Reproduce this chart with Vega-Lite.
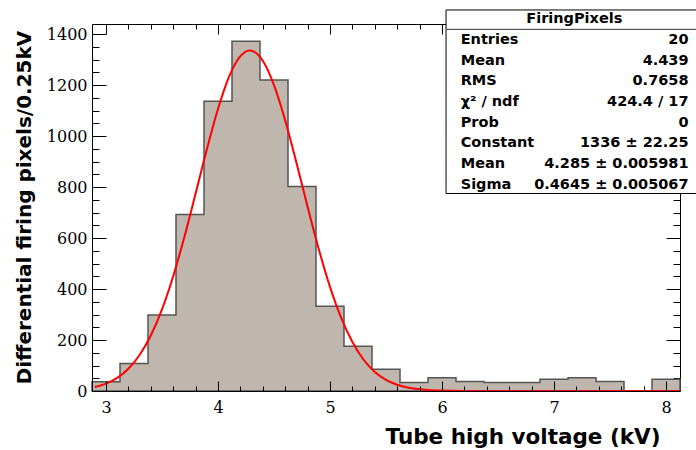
{
  "$schema": "https://vega.github.io/schema/vega-lite/v6.json",
  "width": 588,
  "height": 367,
  "autosize": "none",
  "padding": {"left": 92, "top": 24, "right": 16, "bottom": 59},
  "background": "white",
  "config": {"view": {"stroke": null}},
  "datasets": {
    "bins": [
      {"lo": 2.875, "hi": 3.125, "n": 36},
      {"lo": 3.125, "hi": 3.375, "n": 108},
      {"lo": 3.375, "hi": 3.625, "n": 298},
      {"lo": 3.625, "hi": 3.875, "n": 693},
      {"lo": 3.875, "hi": 4.125, "n": 1137},
      {"lo": 4.125, "hi": 4.375, "n": 1372},
      {"lo": 4.375, "hi": 4.625, "n": 1220},
      {"lo": 4.625, "hi": 4.875, "n": 802},
      {"lo": 4.875, "hi": 5.125, "n": 333},
      {"lo": 5.125, "hi": 5.375, "n": 176},
      {"lo": 5.375, "hi": 5.625, "n": 85},
      {"lo": 5.625, "hi": 5.875, "n": 33},
      {"lo": 5.875, "hi": 6.125, "n": 52},
      {"lo": 6.125, "hi": 6.375, "n": 37},
      {"lo": 6.375, "hi": 6.625, "n": 33},
      {"lo": 6.625, "hi": 6.875, "n": 33},
      {"lo": 6.875, "hi": 7.125, "n": 46},
      {"lo": 7.125, "hi": 7.375, "n": 52},
      {"lo": 7.375, "hi": 7.625, "n": 37},
      {"lo": 7.625, "hi": 7.875, "n": 0},
      {"lo": 7.875, "hi": 8.125, "n": 46}
    ],
    "fit": [
      {"x": 2.9, "y": 15.7}, {"x": 3.0, "y": 29.1}, {"x": 3.1, "y": 51.6}, {"x": 3.2, "y": 87.3},
      {"x": 3.3, "y": 141.0}, {"x": 3.4, "y": 217.6}, {"x": 3.5, "y": 320.3}, {"x": 3.6, "y": 450.4},
      {"x": 3.7, "y": 604.5}, {"x": 3.8, "y": 774.6}, {"x": 3.9, "y": 947.6}, {"x": 4.0, "y": 1106.8},
      {"x": 4.1, "y": 1234.1}, {"x": 4.2, "y": 1313.8}, {"x": 4.285, "y": 1336}, {"x": 4.3, "y": 1335.3},
      {"x": 4.4, "y": 1295.7}, {"x": 4.5, "y": 1200.3}, {"x": 4.6, "y": 1061.6}, {"x": 4.7, "y": 896.4},
      {"x": 4.8, "y": 722.6}, {"x": 4.9, "y": 556.1}, {"x": 5.0, "y": 408.6}, {"x": 5.1, "y": 286.6},
      {"x": 5.2, "y": 191.9}, {"x": 5.3, "y": 122.7}, {"x": 5.4, "y": 74.9}, {"x": 5.5, "y": 43.7},
      {"x": 5.6, "y": 24.3}, {"x": 5.7, "y": 12.9}, {"x": 5.8, "y": 6.5}, {"x": 5.9, "y": 3.2},
      {"x": 6.0, "y": 1.5}, {"x": 6.2, "y": 0.3}, {"x": 6.5, "y": 0}, {"x": 8.125, "y": 0}
    ],
    "statbox": [
      {"row": 0, "kind": "title", "text": "FiringPixels"},
      {"row": 1, "kind": "label", "text": "Entries"},
      {"row": 1, "kind": "value", "text": "20"},
      {"row": 2, "kind": "label", "text": "Mean"},
      {"row": 2, "kind": "value", "text": "4.439"},
      {"row": 3, "kind": "label", "text": "RMS"},
      {"row": 3, "kind": "value", "text": "0.7658"},
      {"row": 4, "kind": "label", "text": "χ² / ndf"},
      {"row": 4, "kind": "value", "text": "424.4 / 17"},
      {"row": 5, "kind": "label", "text": "Prob"},
      {"row": 5, "kind": "value", "text": "0"},
      {"row": 6, "kind": "label", "text": "Constant"},
      {"row": 6, "kind": "value", "text": "1336 ± 22.25"},
      {"row": 7, "kind": "label", "text": "Mean"},
      {"row": 7, "kind": "value", "text": "4.285 ± 0.005981"},
      {"row": 8, "kind": "label", "text": "Sigma"},
      {"row": 8, "kind": "value", "text": "0.4645 ± 0.005067"}
    ],
    "box": [{"name": "FiringPixels"}]
  },
  "resolve": {"scale": {"y": "independent"}, "axis": {"x": "independent", "y": "independent"}},
  "layer": [
    {
      "data": {"name": "bins"},
      "transform": [{"fold": ["lo", "hi"], "as": ["edge", "xe"]}],
      "mark": {"type": "area", "fill": "#bfb6ad", "fillOpacity": 1, "stroke": "#555555", "strokeWidth": 1.5, "interpolate": "linear"},
      "encoding": {
        "x": {
          "field": "xe", "type": "quantitative",
          "scale": {"domain": [2.875, 8.125], "nice": false, "zero": false},
          "axis": {
            "orient": "bottom", "zindex": 1, "grid": false,
            "values": [3, 4, 5, 6, 7, 8], "format": "d",
            "tickSize": -10, "tickColor": "black", "domainColor": "black", "tickWidth": 1, "domainWidth": 1,
            "labelFont": "DejaVu Serif", "labelFontSize": 16, "labelColor": "black",
            "labelPadding": 18, "labelFlush": false, "labelOverlap": false,
            "title": "Tube high voltage (kV)", "titleFont": "DejaVu Sans", "titleFontWeight": "bold",
            "titleFontSize": 21.5, "titleColor": "black", "titleAlign": "right",
            "titleX": 568, "titleY": 52, "titleBaseline": "alphabetic"
          }
        },
        "y": {
          "field": "n", "type": "quantitative", "stack": null,
          "scale": {"domain": [0, 1440], "nice": false},
          "axis": {
            "orient": "left", "zindex": 1, "grid": false,
            "values": [0, 200, 400, 600, 800, 1000, 1200, 1400], "format": "d",
            "tickSize": -14, "tickColor": "black", "domainColor": "black", "tickWidth": 1, "domainWidth": 1,
            "labelFont": "DejaVu Serif", "labelFontSize": 16, "labelColor": "black",
            "labelPadding": 19, "labelFlush": false, "labelOverlap": false,
            "title": "Differential firing pixels/0.25kV", "titleFont": "DejaVu Sans", "titleFontWeight": "bold",
            "titleFontSize": 20, "titleColor": "black", "titleAngle": 270, "titleAlign": "center",
            "titleX": -62, "titleY": 183, "titleBaseline": "alphabetic"
          }
        }
      }
    },
    {
      "data": {"name": "fit"},
      "mark": {"type": "line", "stroke": "#ff0000", "strokeWidth": 2, "interpolate": "monotone"},
      "encoding": {
        "x": {
          "field": "x", "type": "quantitative",
          "scale": {"domain": [2.875, 8.125], "nice": false, "zero": false},
          "axis": {
            "orient": "top", "zindex": 0, "grid": false, "labels": false, "title": null,
            "values": [3, 4, 5, 6, 7, 8],
            "tickSize": -10, "tickColor": "black", "domainColor": "black", "tickWidth": 1, "domainWidth": 1
          }
        },
        "y": {
          "field": "y", "type": "quantitative",
          "scale": {"domain": [0, 1440], "nice": false},
          "axis": {
            "orient": "right", "zindex": 0, "grid": false, "labels": false, "title": null,
            "values": [0, 200, 400, 600, 800, 1000, 1200, 1400],
            "tickSize": -14, "tickColor": "black", "domainColor": "black", "tickWidth": 1, "domainWidth": 1
          }
        }
      }
    },
    {
      "data": {"name": "box"},
      "mark": {"type": "rect", "fill": "white", "stroke": "black", "strokeWidth": 1},
      "encoding": {
        "x": {
          "datum": 6.036, "type": "quantitative",
          "scale": {"domain": [2.875, 8.125], "nice": false, "zero": false},
          "axis": {
            "orient": "top", "zindex": 0, "grid": false, "labels": false, "title": null, "domain": false,
            "values": [3.2,3.4,3.6,3.8,4.2,4.4,4.6,4.8,5.2,5.4,5.6,5.8,6.2,6.4,6.6,6.8,7.2,7.4,7.6,7.8],
            "tickSize": -5, "tickColor": "black", "tickWidth": 1
          }
        },
        "x2": {"datum": 8.35},
        "y": {
          "datum": 1495, "type": "quantitative",
          "scale": {"domain": [0, 1440], "nice": false},
          "axis": {
            "orient": "right", "zindex": 0, "grid": false, "labels": false, "title": null, "domain": false,
            "values": [50,100,150,250,300,350,450,500,550,650,700,750,850,900,950,1050,1100,1150,1250,1300,1350],
            "tickSize": -7, "tickColor": "black", "tickWidth": 1
          }
        },
        "y2": {"datum": 775}
      }
    },
    {
      "data": {"name": "box"},
      "mark": {"type": "rule", "stroke": "#333333", "strokeWidth": 1},
      "encoding": {
        "x": {
          "datum": 6.04, "type": "quantitative",
          "scale": {"domain": [2.875, 8.125], "nice": false, "zero": false},
          "axis": {
            "orient": "bottom", "zindex": 1, "grid": false, "labels": false, "title": null, "domain": false,
            "values": [3.2,3.4,3.6,3.8,4.2,4.4,4.6,4.8,5.2,5.4,5.6,5.8,6.2,6.4,6.6,6.8,7.2,7.4,7.6,7.8],
            "tickSize": -5, "tickColor": "black", "tickWidth": 1
          }
        },
        "x2": {"datum": 8.34},
        "y": {
          "datum": 1419, "type": "quantitative",
          "scale": {"domain": [0, 1440], "nice": false},
          "axis": {
            "orient": "left", "zindex": 1, "grid": false, "labels": false, "title": null, "domain": false,
            "values": [50,100,150,250,300,350,450,500,550,650,700,750,850,900,950,1050,1100,1150,1250,1300,1350],
            "tickSize": -7, "tickColor": "black", "tickWidth": 1
          }
        }
      }
    },
    {
      "data": {"name": "statbox"},
      "mark": {
        "type": "text", "font": "DejaVu Sans", "fontWeight": "bold", "fontSize": 14.5, "baseline": "middle", "color": "black",
        "align": {"expr": "datum.kind === 'title' ? 'center' : (datum.kind === 'value' ? 'right' : 'left')"},
        "dx": {"expr": "datum.kind === 'title' ? 113.6 : (datum.kind === 'value' ? 227.8 : 0)"}
      },
      "encoding": {
        "x": {"datum": 6.167, "type": "quantitative", "scale": {"domain": [2.875, 8.125], "nice": false, "zero": false}, "axis": null},
        "y": {"field": "row", "type": "quantitative", "scale": {"domain": [0.227, 17.957], "reverse": true, "nice": false, "zero": false}, "axis": null},
        "text": {"field": "text"}
      }
    }
  ]
}
